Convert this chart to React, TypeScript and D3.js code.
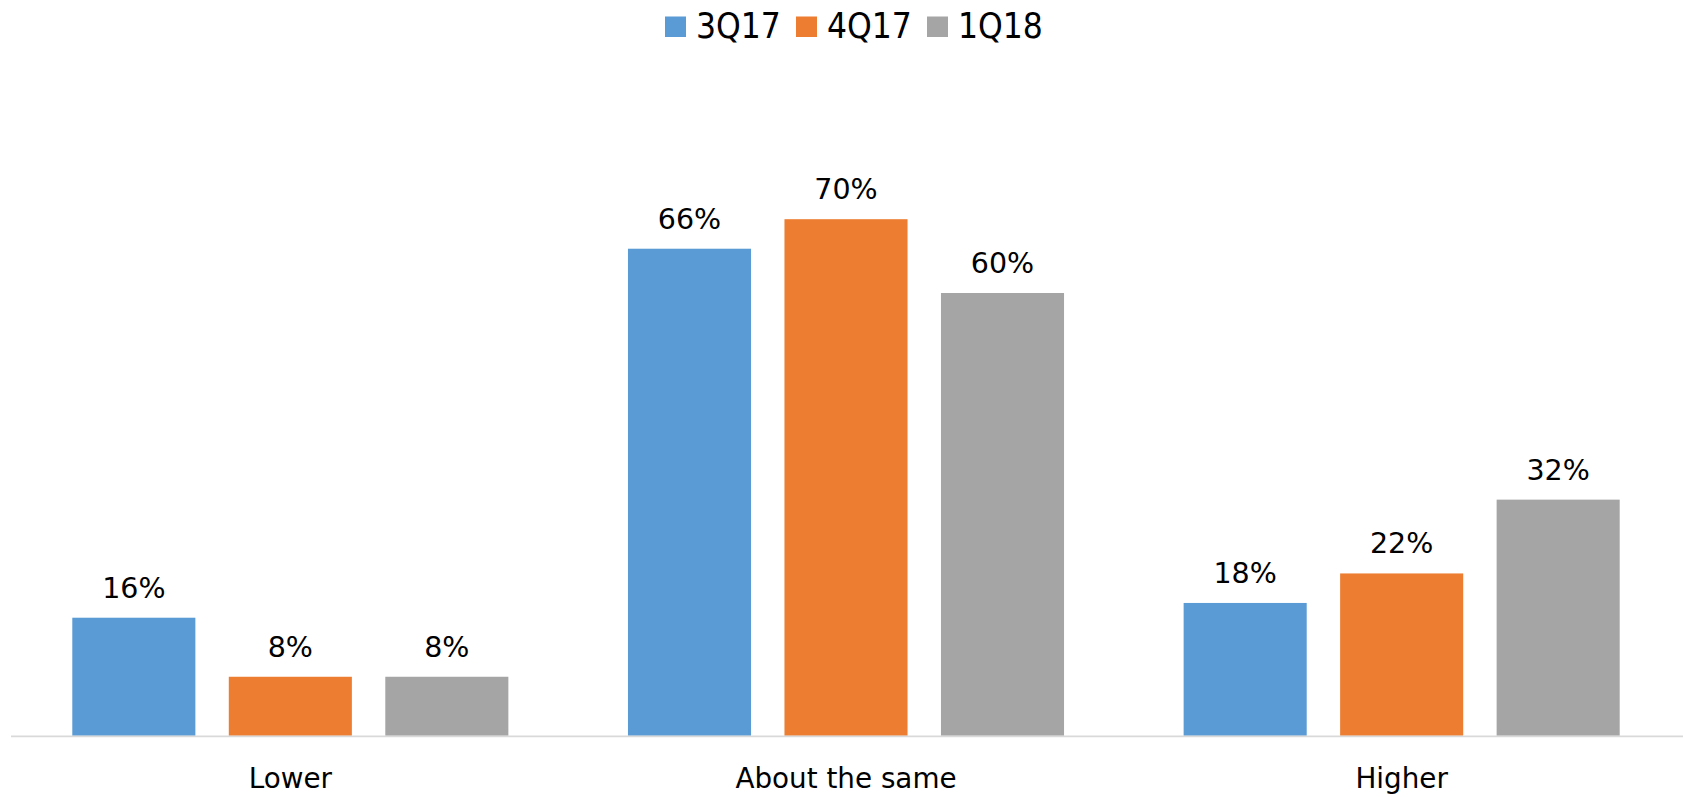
import React from "react";
import * as d3 from "d3";

const categories = ["Lower", "About the same", "Higher"];
const seriesNames = ["3Q17", "4Q17", "1Q18"];
const values3Q17 = [16, 66, 18];
const values4Q17 = [8, 70, 22];
const values1Q18 = [8, 60, 32];
const seriesColors = ["#5B9BD5", "#ED7D31", "#A5A5A5"];

const W = 1683;
const H = 797;

export default function App() {
  const seriesValues = [values3Q17, values4Q17, values1Q18];
  const x0 = d3.scaleBand<string>().domain(categories).range([12.5, 1679.5]).paddingInner(0).paddingOuter(0);
  const bw = x0.bandwidth();
  const x1 = d3.scaleBand<string>().domain(seriesNames).range([59.8, bw - 59.8]).paddingInner(0.2136).paddingOuter(0);
  const y = d3.scaleLinear().domain([0, 80]).range([735.8, 145.4]);

  const labelFont = "'DejaVu Sans', Verdana, sans-serif";
  const legendFont = "'DejaVu Sans Condensed', 'DejaVu Sans', sans-serif";

  return (
    <svg width={W} height={H} style={{ position: "absolute", left: 0, top: 0, background: "#fff" }}>
      <rect x={0} y={0} width={W} height={H} fill="#fff" />
      {/* legend */}
      <g>
        {seriesNames.map((s, i) => {
          const lx = 665 + i * 131;
          return (
            <g key={s}>
              <rect x={lx} y={16.5} width={21} height={20.5} fill={seriesColors[i]} />
              <text x={lx + 31} y={37.7} fontFamily={legendFont} fontSize={35} fill="#000">
                {s}
              </text>
            </g>
          );
        })}
      </g>
      {/* bars */}
      {categories.map((c, ci) => (
        <g key={c} transform={`translate(${x0(c)},0)`}>
          {seriesNames.map((s, si) => {
            const v = seriesValues[si][ci];
            const bx = x1(s) as number;
            return (
              <g key={s}>
                <rect
                  x={bx}
                  y={y(v)}
                  width={x1.bandwidth()}
                  height={y(0) - y(v)}
                  fill={seriesColors[si]}
                />
                <text
                  x={bx + x1.bandwidth() / 2}
                  y={y(v) - 20}
                  textAnchor="middle"
                  fontFamily={labelFont}
                  fontSize={28.5}
                  fill="#000"
                >
                  {`${v}%`}
                </text>
              </g>
            );
          })}
        </g>
      ))}
      {/* axis line */}
      <line x1={11} x2={W} y1={736.3} y2={736.3} stroke="#D9D9D9" strokeWidth={1.8} />
      {/* category labels */}
      {categories.map((c) => (
        <text
          key={c}
          x={(x0(c) as number) + bw / 2}
          y={787.5}
          textAnchor="middle"
          fontFamily={labelFont}
          fontSize={27.8}
          fill="#000"
        >
          {c}
        </text>
      ))}
    </svg>
  );
}
